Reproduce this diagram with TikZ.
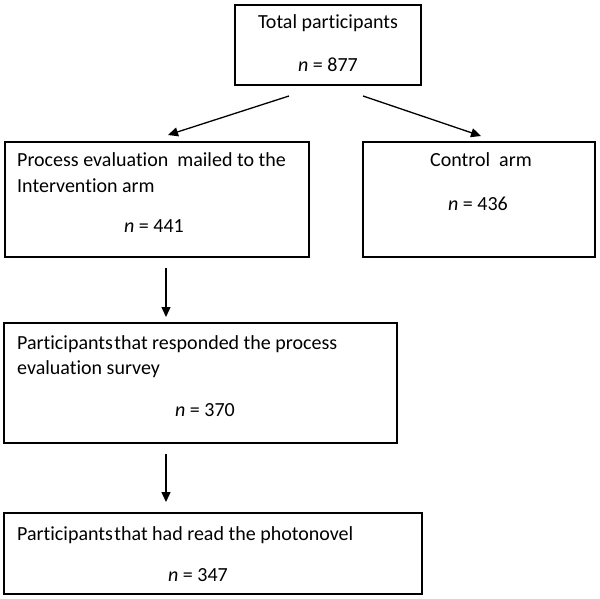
\documentclass[tikz,border=0pt]{standalone}
\usepackage{fontspec}
\setmainfont[Ligatures=NoCommon]{Carlito}
\usetikzlibrary{arrows.meta}
\begin{document}
\begin{tikzpicture}[x=1pt,y=-1pt,
  box/.style={draw=black, line width=1.7pt, inner sep=0pt, outer sep=0pt},
  txt/.style={inner sep=0pt, font=\fontsize{20}{24}\selectfont},
  arr/.style={line width=1.3pt, -{Triangle[length=10pt,width=9pt]}}]
\useasboundingbox (0,0) rectangle (600,599);
% boxes
\node[box, minimum width=186pt, minimum height=80pt] (total) at (328,45) {};
\node[box, minimum width=304pt, minimum height=115pt] (proc) at (157,199.5) {};
\node[box, minimum width=232pt, minimum height=115pt] (ctrl) at (479,199.5) {};
\node[box, minimum width=393pt, minimum height=120pt] (resp) at (200.5,383) {};
\node[box, minimum width=418pt, minimum height=81pt] (read) at (213,553.5) {};
% texts
\node[txt, anchor=base] (t1) at (328,29) {Total participants};
\node[txt, anchor=base] (t1n) at (328,72) {\textit{n} = 877};
\node[txt, anchor=base west] (t2a) at (17,167) {Process evaluation\ \ mailed to the};
\node[txt, anchor=base west] (t2b) at (17,193) {Intervention arm};
\node[txt, anchor=base] (t2n) at (154,232) {\textit{n} = 441};
\node[txt, anchor=base] (t3) at (481,167) {Control\ \ arm};
\node[txt, anchor=base] (t3n) at (478,211) {\textit{n} = 436};
\node[txt, anchor=base west] (t4a) at (17,349) {Participants\hspace{1.5pt}that responded the process};
\node[txt, anchor=base west] (t4b) at (17,374) {evaluation survey};
\node[txt, anchor=base] (t4n) at (205,416) {\textit{n} = 370};
\node[txt, anchor=base west] (t5a) at (17,540) {Participants\hspace{1.5pt}that had read the photonovel};
\node[txt, anchor=base] (t5n) at (198,581) {\textit{n} = 347};
% connector ends
\coordinate (s1) at (289,96);
\coordinate (e1) at (168,135);
\coordinate (s2) at (363,96);
\coordinate (e2) at (481,136);
\coordinate (s3) at (166,268);
\coordinate (e3) at (166,317);
\coordinate (s4) at (166,454);
\coordinate (e4) at (166,502);
\draw[arr] (s1) -- (e1);
\draw[arr] (s2) -- (e2);
\draw[arr] (s3) -- (e3);
\draw[arr] (s4) -- (e4);
\end{tikzpicture}
\end{document}
